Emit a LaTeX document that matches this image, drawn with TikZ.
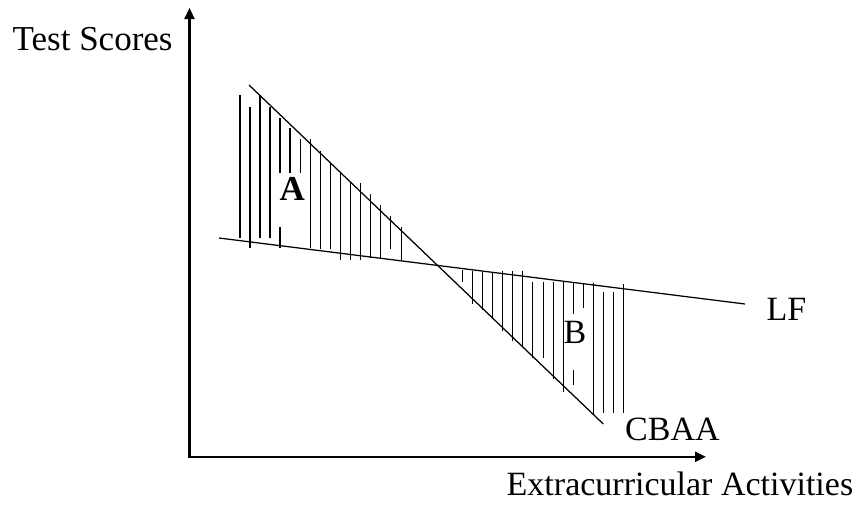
\documentclass[tikz,border=0pt]{standalone}
\usepackage{fontspec}
\setmainfont{Liberation Serif}
\usetikzlibrary{arrows.meta}
\tikzset{
  thinline/.style={line width=1.25pt},
  hatch/.style={line width=1.25pt},
  axisline/.style={line width=2.3pt, line join=miter},
  lbl/.style={inner sep=0pt, anchor=base west, font=\fontsize{34}{40}\selectfont}
}
\begin{document}
\begin{tikzpicture}[x=1pt,y=-1pt]
\useasboundingbox (0,0) rectangle (862,504);
% axes
\coordinate (origin) at (189.5,456.8);
\coordinate (ytip) at (189.5,8);
\coordinate (xtip) at (706,456.8);
\draw[axisline, {Triangle[length=11pt,width=10pt]}-{Triangle[length=11pt,width=10pt]}] (ytip) -- (origin) -- (xtip);
% lines
\coordinate (cbaaS) at (249,85);
\coordinate (cbaaE) at (603.3,424);
\coordinate (lfS) at (219,238);
\coordinate (lfE) at (745,304);
\draw[thinline] (cbaaS) -- (cbaaE);
\draw[thinline] (lfS) -- (lfE);
% hatching region A
\foreach \x/\t/\b in {240/95/238.3, 250/106.7/248.3, 260/95/238.3, 270/106.7/238.3,
  280/118.3/173.3, 280/226.7/248.3, 290/128.3/173.3, 300.7/139.3/173.3,
  310.7/139.3/248.3, 320.7/150.7/249, 330.7/161.7/249, 340.7/172.7/260,
  350.7/183.3/260, 360.7/183.3/260, 370.7/194/257.7, 380.7/205/257.7,
  390.7/216/249, 401.3/227.3/260}
  \draw[hatch] (\x,\t) -- (\x,\b);
% hatching region B
\foreach \x/\t/\b in {462.3/270/281.7, 472.3/270.5/304, 482.3/271.7/310, 492.3/272/319,
  502.3/271/331, 512.3/271/341, 522.5/271/346.7, 532.7/281.7/358.3,
  543.3/281.7/358.3, 553.3/282.3/379, 563.3/282.3/391.7,
  573.3/282.3/313.5, 573.3/370/385, 583.3/283.3/308,
  593.3/283/415, 603.3/291.7/412.5, 613.3/291.7/412.5, 623.3/284/412.5}
  \draw[hatch] (\x,\t) -- (\x,\b);
% labels
\node[lbl, font=\fontsize{35}{40}\selectfont] (ylab) at (12.5,50) {Test Scores};
\node[lbl] (xlab) at (506.5,495) {Extracurricular Activities};
\node[lbl] (cbaa) at (625,440.7) {CBAA};
\node[lbl] (lf) at (766.5,320.7) {LF};
\node[lbl, font=\fontsize{35}{40}\selectfont\bfseries] (la) at (279.5,200) {A};
\node[lbl] (lb) at (563.3,343.3) {B};
\end{tikzpicture}
\end{document}
